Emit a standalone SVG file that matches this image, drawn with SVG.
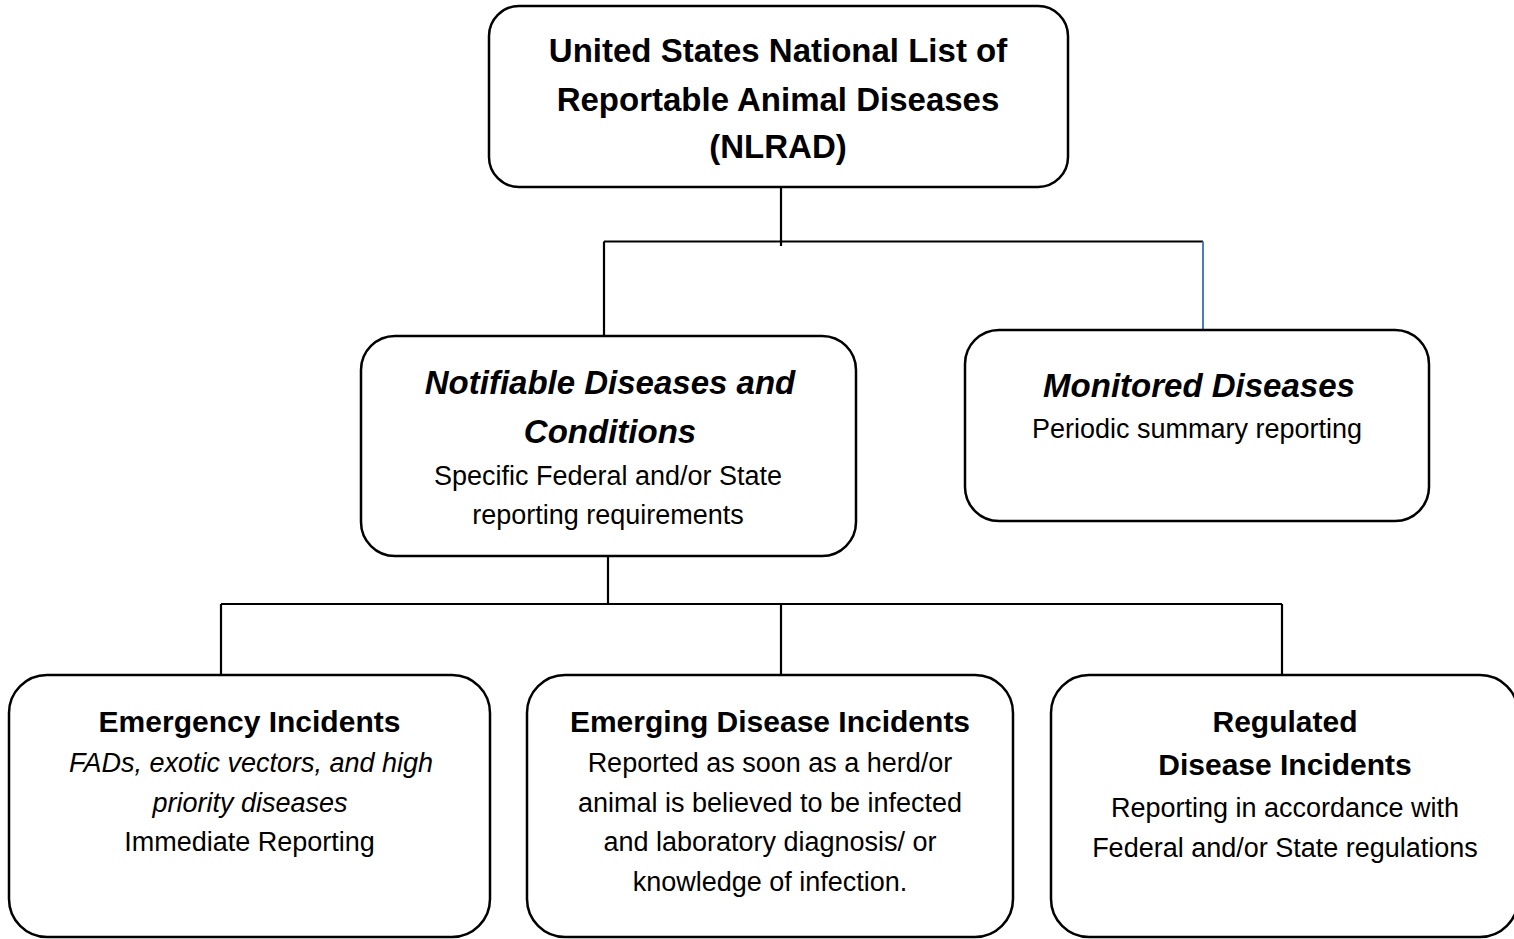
<svg xmlns="http://www.w3.org/2000/svg" width="1514" height="939" viewBox="0 0 1514 939">
<style>
.box{fill:#fff;stroke:#000;stroke-width:2.5}
.con{fill:none;stroke:#000;stroke-width:2.2}
.blue{fill:none;stroke:#4a7ebb;stroke-width:2}
text{font-family:"Liberation Sans",Arial,sans-serif;text-anchor:middle;fill:#000}
.h{font-size:33px;font-weight:bold}
.hi{font-size:33px;font-weight:bold;font-style:italic}
.h2{font-size:30px;font-weight:bold}
.b{font-size:27px}
.i{font-size:27px;font-style:italic}
</style>
<rect width="1514" height="939" fill="#fff"/>
<g id="connectors">
<path class="con" d="M781 187V246M604 241.5H1203M604 241.5V336"/>
<path class="blue" d="M1203 241.5V330"/>
<path class="con" d="M608 556V604M221 604H1282M221 604V675M781 604V675M1282 604V675"/>
</g>
<g id="nlrad">
<rect class="box" x="489" y="6" width="579" height="181" rx="30"/>
<text class="h" x="778" y="62">United States National List of</text>
<text class="h" x="778" y="111">Reportable Animal Diseases</text>
<text class="h" x="778" y="158">(NLRAD)</text>
</g>
<g id="notifiable">
<rect class="box" x="361" y="336" width="495" height="220" rx="34"/>
<text class="hi" x="610" y="394">Notifiable Diseases and</text>
<text class="hi" x="610" y="443">Conditions</text>
<text class="b" x="608" y="485">Specific Federal and/or State</text>
<text class="b" x="608" y="524">reporting requirements</text>
</g>
<g id="monitored">
<rect class="box" x="965" y="330" width="464" height="191" rx="34"/>
<text class="hi" x="1199" y="397">Monitored Diseases</text>
<text class="b" x="1197" y="438">Periodic summary reporting</text>
</g>
<g id="emergency">
<rect class="box" x="9" y="675" width="481" height="262" rx="38"/>
<text class="h2" x="249.5" y="732">Emergency Incidents</text>
<text class="i" x="251" y="772">FADs, exotic vectors, and high</text>
<text class="i" x="250" y="812">priority diseases</text>
<text class="b" x="249.5" y="851">Immediate Reporting</text>
</g>
<g id="emerging">
<rect class="box" x="527" y="675" width="486" height="262" rx="38"/>
<text class="h2" x="770" y="732">Emerging Disease Incidents</text>
<text class="b" x="770" y="772">Reported as soon as a herd/or</text>
<text class="b" x="770" y="812">animal is believed to be infected</text>
<text class="b" x="770" y="851">and laboratory diagnosis/ or</text>
<text class="b" x="770" y="891">knowledge of infection.</text>
</g>
<g id="regulated">
<rect class="box" x="1051" y="675" width="467" height="262" rx="38"/>
<text class="h2" x="1285" y="732">Regulated</text>
<text class="h2" x="1285" y="775">Disease Incidents</text>
<text class="b" x="1285" y="817">Reporting in accordance with</text>
<text class="b" x="1285" y="857">Federal and/or State regulations</text>
</g>
</svg>
